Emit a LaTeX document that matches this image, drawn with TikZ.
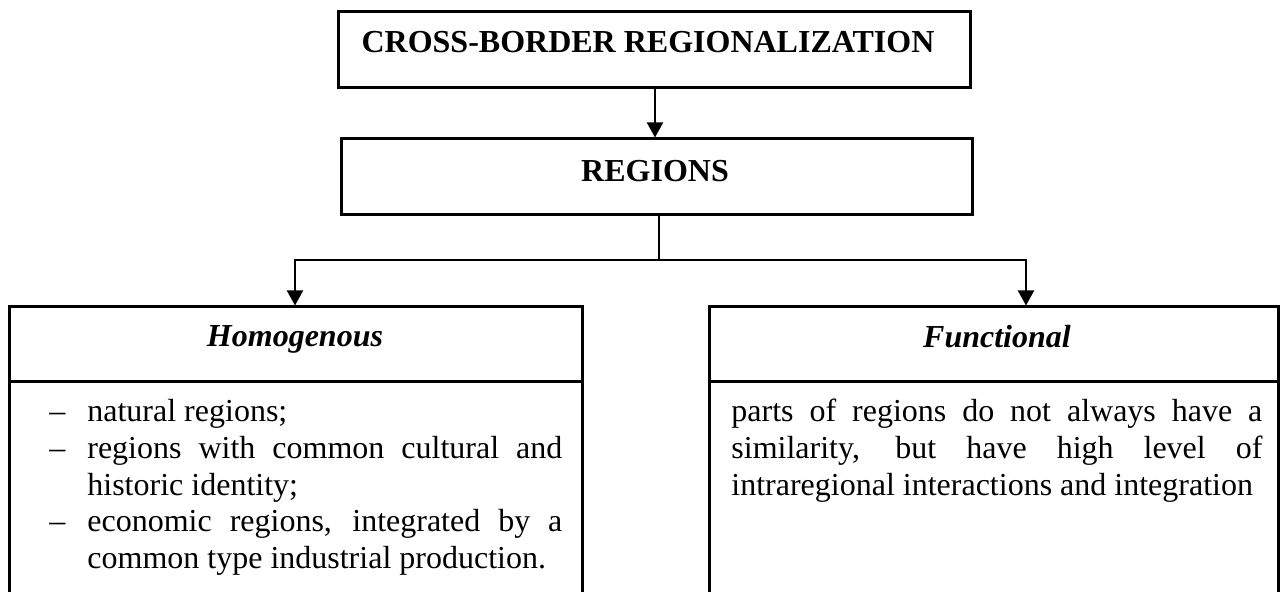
\documentclass[tikz,border=0pt]{standalone}
\usepackage{fontspec}
\setmainfont{Liberation Serif}
\usetikzlibrary{arrows.meta}
\tikzset{
  boxshape/.style={draw, line width=1.5pt, inner sep=0pt, minimum height=38pt},
  titletxt/.style={inner sep=0pt, anchor=base, font=\fontsize{16}{18.3}\selectfont\bfseries},
  subtxt/.style={inner sep=0pt, anchor=base, font=\fontsize{16}{18.3}\selectfont\bfseries\itshape},
  bodytext/.style={inner sep=0pt, anchor=base west, align=justify, font=\fontsize{16}{18.3}\selectfont},
  conn/.style={line width=1pt},
  arr/.style={conn, -{Triangle[length=7.5pt,width=8pt]}}
}
\newcommand{\dashitem}{\noindent\llap{\makebox[19pt][l]{–}}}
\begin{document}
\begin{tikzpicture}[x=0.5pt,y=-0.5pt]
\useasboundingbox (0,0) rectangle (1280,592);
\fill[white] (0,0) rectangle (1280,592);
\clip (0,0) rectangle (1280,592);
% boxes
\node[boxshape, minimum width=316pt] (top) at (654,50) {};
\node[titletxt] (toptxt) at (648,53) {CROSS-BORDER REGIONALIZATION};
\node[boxshape, minimum width=315.5pt] (reg) at (656.5,177) {};
\node[titletxt] (regtxt) at (655,182) {REGIONS};
\node[boxshape, minimum width=286.5pt, minimum height=37.5pt] (lh) at (295.5,344.5) {};
\node[boxshape, minimum width=286.5pt, minimum height=119pt] (lb) at (295.5,501) {};
\node[boxshape, minimum width=284.5pt, minimum height=37.5pt] (rh) at (993.5,344.5) {};
\node[boxshape, minimum width=284.5pt, minimum height=119pt] (rb) at (993.5,501) {};
\node[subtxt] (lhtxt) at (295,347) {Homogenous};
\node[subtxt] (rhtxt) at (997,348) {Functional};
\node[bodytext, text width=237.5pt] (lbtxt) at (87,422) {\hyphenpenalty=10000 \tolerance=10000
\dashitem natural regions;\par
\dashitem regions with common cultural and historic identity;\par
\dashitem economic regions, integrated by a common type industrial production.\par};
\node[bodytext, text width=265.5pt] (rbtxt) at (731,422) {\hyphenpenalty=10000 \tolerance=10000 \noindent
parts of regions do not always have a\linebreak similarity, but have high level of\linebreak intraregional interactions and integration\par};
% connectors
\coordinate (a1) at (655,0);
\coordinate (br) at (659,260);
\coordinate (bl) at (295,260);
\coordinate (brr) at (1026,260);
\draw[arr] (top.south -| a1) -- (reg.north -| a1);
\draw[conn] (reg.south -| br) -- (br);
\draw[arr] (br) -- (bl) -- (lh.north -| bl);
\draw[arr] (br) -- (brr) -- (rh.north -| brr);
\end{tikzpicture}
\end{document}
